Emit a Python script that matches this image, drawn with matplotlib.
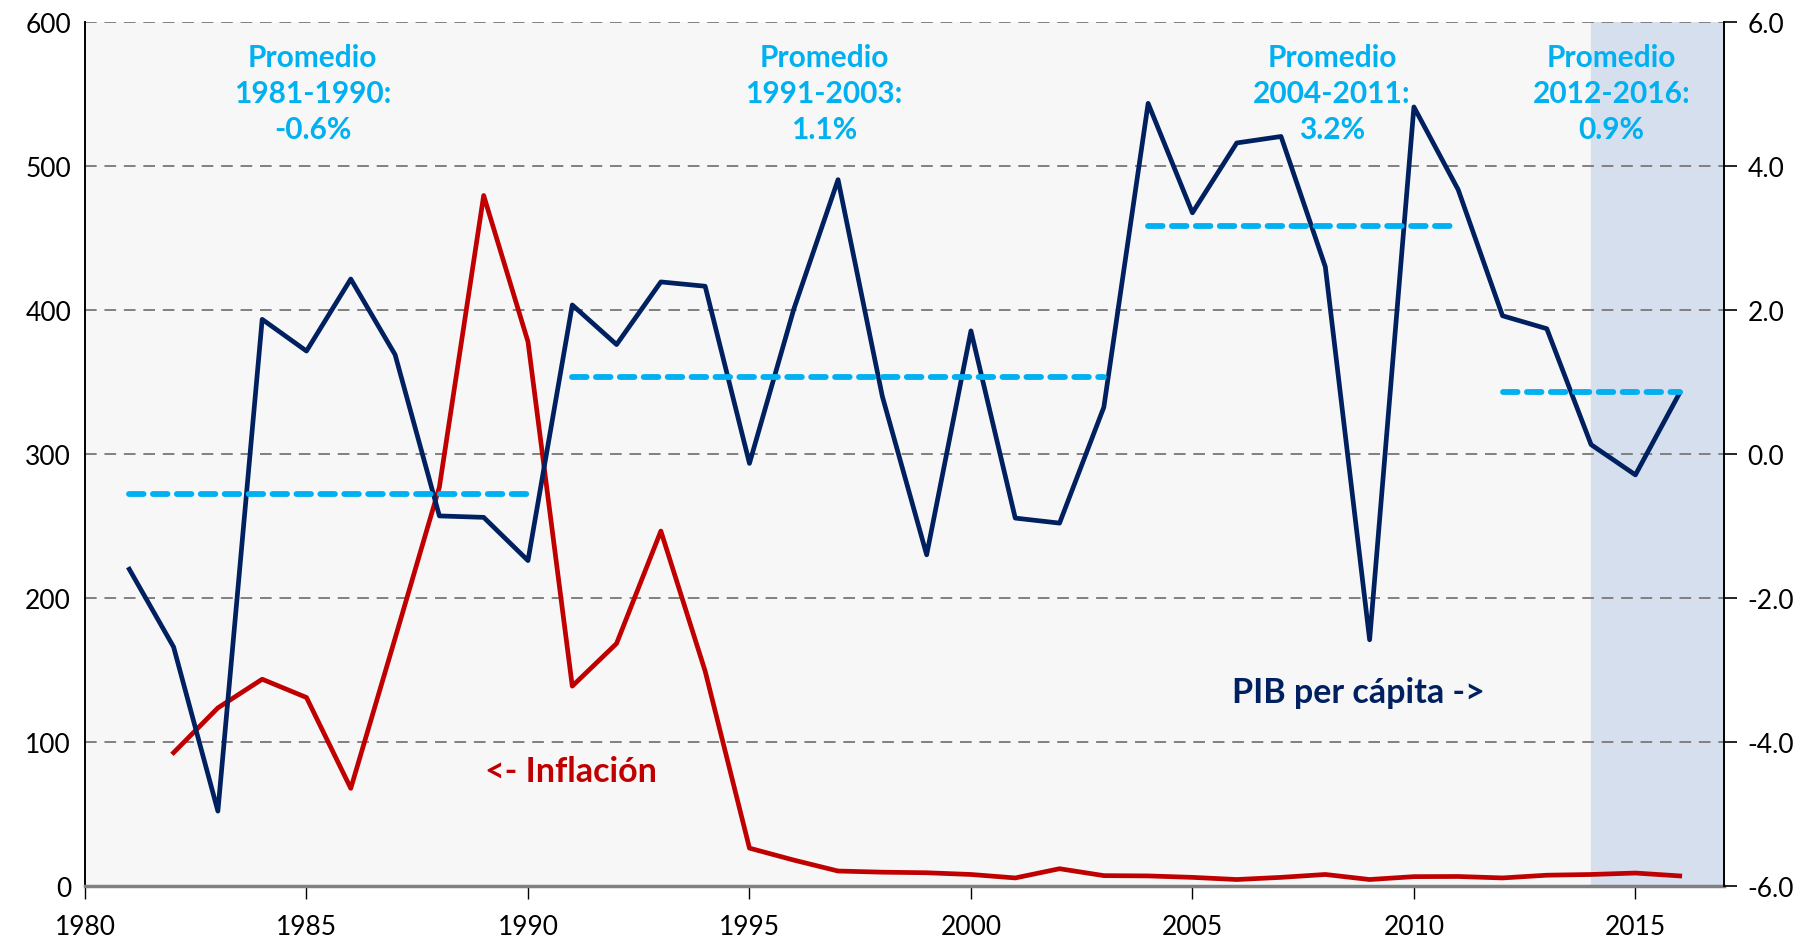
import matplotlib
matplotlib.use("Agg")
import matplotlib.pyplot as plt

plt.rcParams["font.family"] = ["Lato", "DejaVu Sans"]

# Data
years = list(range(1981, 2017))
pib_pc = [-1.60, -2.68, -4.96, 1.87, 1.43, 2.43, 1.38, -0.86, -0.88, -1.48,
          2.07, 1.52, 2.39, 2.33, -0.13, 2.01, 3.81, 0.80, -1.40, 1.71,
          -0.89, -0.96, 0.65, 4.87, 3.35, 4.32, 4.41, 2.60, -2.58, 4.82,
          3.67, 1.92, 1.74, 0.13, -0.29, 0.85]

infl_years = list(range(1982, 2017))
inflacion = [92.6, 123.7, 143.6, 130.9, 67.8, 172.0, 277.0, 479.5, 378.0,
             138.8, 168.4, 246.5, 149.2, 26.3, 18.0, 10.4, 9.6, 9.2, 8.0,
             5.6, 12.0, 7.2, 7.0, 6.0, 4.5, 6.0, 8.0, 4.5, 6.5, 6.6, 5.6,
             7.5, 8.0, 9.0, 7.0]

periodos = [(1981, 1990), (1991, 2003), (2004, 2011), (2012, 2016)]
promedios = [-0.56, 1.07, 3.16, 0.86]
etiquetas = ["Promedio\n1981-1990:\n-0.6%", "Promedio\n1991-2003:\n1.1%",
             "Promedio\n2004-2011:\n3.2%", "Promedio\n2012-2016:\n0.9%"]
etiqueta_x = [1985.14, 1996.68, 2008.15, 2014.46]

navy = "#002060"
red = "#C00000"
cyan = "#00B0F0"

fig = plt.figure(figsize=(18.02, 9.37), dpi=100)
ax = fig.add_axes([85 / 1802, 1 - 887 / 937, (1724 - 85) / 1802, (887 - 23) / 937])
ax.set_facecolor("#F7F7F7")
ax.axvspan(2014, 2017, color="#D6DFEE", zorder=0)

# inflation on left axis
ax.plot(infl_years, inflacion, color=red, lw=3.4, zorder=3)
ax.set_xlim(1980, 2017)
ax.set_ylim(0, 600)
ax.set_yticks(range(0, 601, 100))
ax.yaxis.grid(True, color="#808080", ls=(0, (6, 4)), lw=1.4)
ax.set_axisbelow(True)
ax.set_xticks(range(1980, 2016, 5))
ax.tick_params(axis="x", length=9, width=1, direction="out", labelsize=19, pad=11)
ax.tick_params(axis="y", length=0, labelsize=19, pad=10)
ax.spines["top"].set_visible(False)
ax.spines["right"].set_visible(False)
ax.spines["left"].set_color("black")
ax.spines["left"].set_linewidth(1.4)
ax.spines["bottom"].set_color("#808080")
ax.spines["bottom"].set_linewidth(2.5)

# per capita GDP growth on right axis
ax2 = ax.twinx()
ax2.plot(years, pib_pc, color=navy, lw=3.4, zorder=4)
for (a, b), m in zip(periodos, promedios):
    ax2.plot([a, b], [m, m], color=cyan, lw=4.2, ls=(0, (2.5, 1.6)),
             solid_capstyle="round", dash_capstyle="round", zorder=5)
ax2.set_ylim(-6, 6)
ax2.set_yticks(range(-6, 7, 2))
ax2.set_yticklabels([f"{v:.1f}" for v in range(-6, 7, 2)])
ax2.tick_params(axis="y", length=9, width=1.2, labelsize=19, pad=8)
for s in ["top", "left", "bottom"]:
    ax2.spines[s].set_visible(False)
ax2.spines["right"].set_color("black")
ax2.spines["right"].set_linewidth(1.4)

for x, t in zip(etiqueta_x, etiquetas):
    ax2.text(x, 5.02, t, color=cyan, fontsize=21.5, fontweight="bold",
             ha="center", va="center", linespacing=1.35)

ax.text(1990.98, 80, "<- Inflación", color=red, fontsize=24.5,
        fontweight="bold", ha="center", va="center")
ax.text(2008.75, 135, "PIB per cápita ->", color=navy, fontsize=24.5,
        fontweight="bold", ha="center", va="center")

fig.savefig("out.png", dpi=100)
